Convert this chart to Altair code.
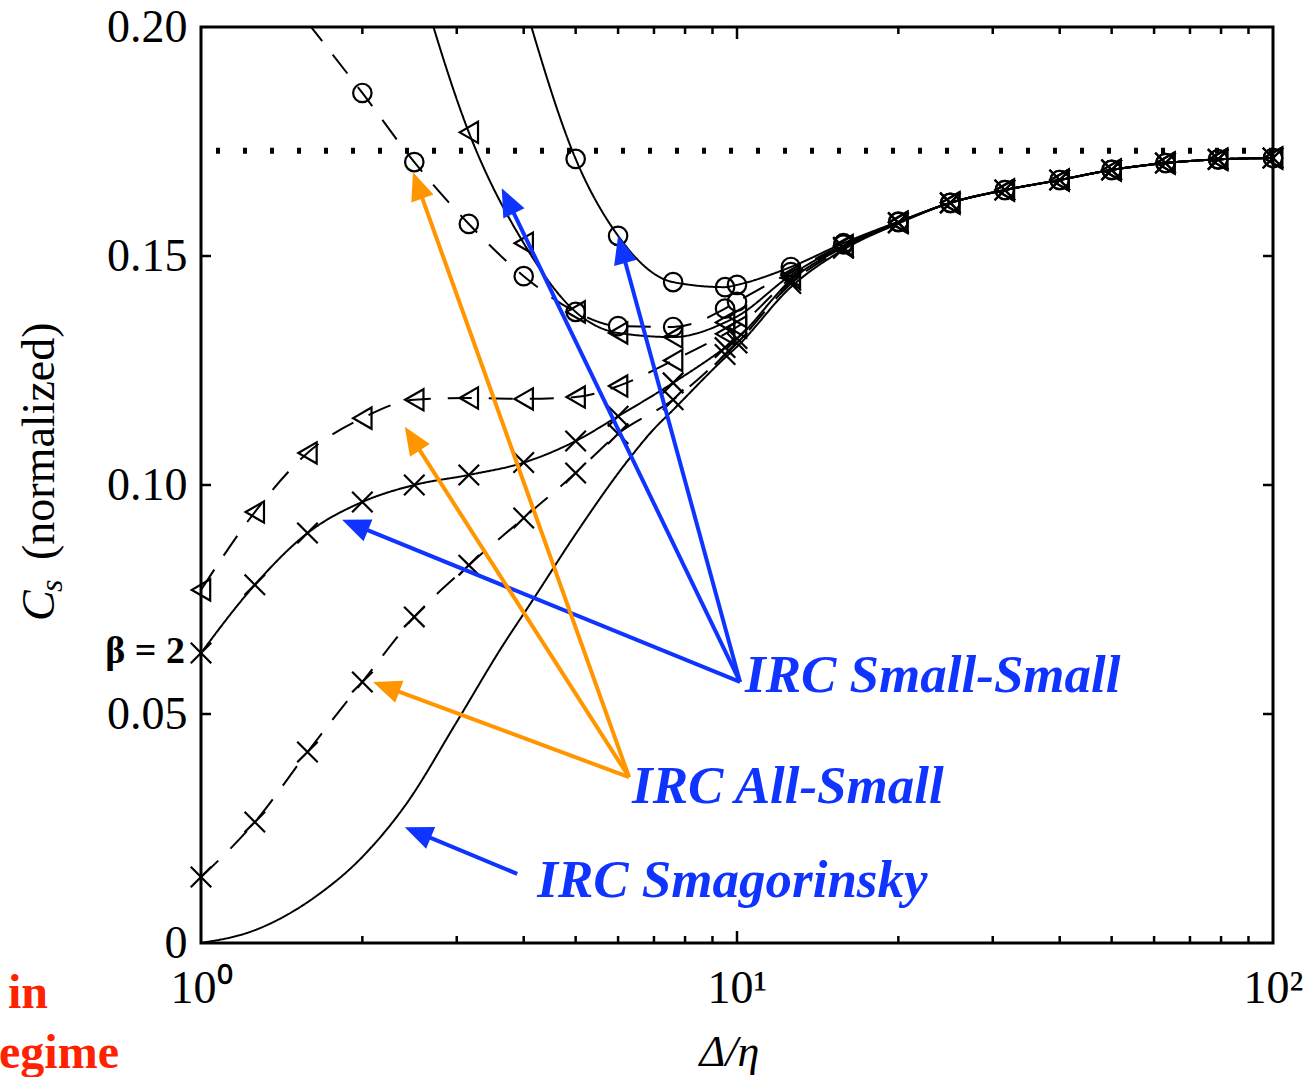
import math
import altair as alt
import pandas as pd

# plot area size (px)
W, H = 1072, 916
X_DOMAIN = [1, 100]
Y_DOMAIN = [0, 0.2]

# filter width to Kolmogorov scale ratio, Δ/η
DX = [1, 1.26, 1.58, 2, 2.5, 3.16, 4, 5, 6, 7.6, 9.5, 10,
      12.6, 15.8, 20, 25, 31.6, 40, 50, 63, 79, 100]

# common high-Δ/η branch (Δ/η = 25 ... 100)
TAIL = [0.1616, 0.1644, 0.1666, 0.1688, 0.1703, 0.1711, 0.1714]

# IRC Small-Small (solid lines)
SS_CIRCLE = [None, None, None, None, None, None, 0.2057, 0.1712, 0.1544, 0.1443,
             0.1432, 0.1437, 0.1476, 0.1528, 0.1575] + TAIL
SS_TRIANGLE = [None, None, None, None, 0.2140, 0.1770, 0.1528, 0.1378, 0.1332, 0.1323,
               0.1355, 0.1368, 0.1458, 0.1523, 0.1574] + TAIL
SS_CROSS = [0.0633, 0.0782, 0.0895, 0.0963, 0.1000, 0.1022, 0.1049, 0.1096, 0.1150, 0.1223,
            0.1300, 0.1320, 0.1447, 0.1519, 0.1573] + TAIL

# IRC All-Small (dashed lines)
AS_CIRCLE = [None, None, 0.2010, 0.1856, 0.1705, 0.1570, 0.1456, 0.1378, 0.1347, 0.1345,
             0.1385, 0.1400, 0.1465, 0.1525, 0.1574] + TAIL
AS_TRIANGLE = [0.0771, 0.0941, 0.1070, 0.1146, 0.1186, 0.1190, 0.1188, 0.1192, 0.1216, 0.1272,
               0.1330, 0.1345, 0.1452, 0.1521, 0.1573] + TAIL
AS_CROSS = [0.0144, 0.0264, 0.0417, 0.0570, 0.0712, 0.0825, 0.0928, 0.1026, 0.1112, 0.1186,
            0.1285, 0.1310, 0.1440, 0.1517, 0.1572] + TAIL

# IRC Smagorinsky (solid, no symbols), sampled along the curve
SMAG_DX = [1, 1.26, 1.63, 2.0, 2.42, 2.99, 3.64, 4.16, 5.0, 6.32, 6.97, 7.6, 9.5, 10,
           12.6, 15.8, 20, 25, 31.6, 40, 50, 63, 79, 100]
SMAGORINSKY = [0.0, 0.0028, 0.0100, 0.0188, 0.0305, 0.0480, 0.0646, 0.0749, 0.0893, 0.1060,
               0.1120, 0.1164, 0.1278, 0.1302, 0.1432, 0.1514, 0.1571] + TAIL

# asymptotic value
CS_ASYMPTOTE = 0.173

# axis ticks
Y_TICKS = [0, 0.05, 0.10, 0.15, 0.20]
X_LABEL_TICKS = [1, 10, 100]
X_MINOR = [2, 3, 4, 5, 6, 7, 8, 9, 20, 30, 40, 50, 60, 70, 80, 90]
X_MAJOR = [10]
Y_INNER = [0.05, 0.10, 0.15]

# annotations
LABELS = ["IRC Small-Small", "IRC All-Small", "IRC Smagorinsky"]
LABEL_X = [10.35, 6.37, 4.24]
LABEL_Y = [0.0548, 0.0306, 0.0100]

BLUE = "#1034ff"
ORANGE = "#ff9600"
ARROW_TAIL_X = [10.13, 10.13, 10.13, 3.89, 6.29, 6.29, 6.29]
ARROW_TAIL_Y = [0.0570, 0.0570, 0.0570, 0.0151, 0.0362, 0.0362, 0.0362]
ARROW_TIP_X = [1.833, 3.64, 6.00, 2.40, 2.094, 2.40, 2.486]
ARROW_TIP_Y = [0.0924, 0.1648, 0.1544, 0.0253, 0.0570, 0.1127, 0.1683]
ARROW_COLOR = [BLUE, BLUE, BLUE, BLUE, ORANGE, ORANGE, ORANGE]

SERIES = [
    ("SS circle", DX, SS_CIRCLE, "solid", "circle"),
    ("SS triangle", DX, SS_TRIANGLE, "solid", "triangle"),
    ("SS cross", DX, SS_CROSS, "solid", "cross"),
    ("AS circle", DX, AS_CIRCLE, "dashed", "circle"),
    ("AS triangle", DX, AS_TRIANGLE, "dashed", "triangle"),
    ("AS cross", DX, AS_CROSS, "dashed", "cross"),
    ("Smagorinsky", SMAG_DX, SMAGORINSKY, "solid", "none"),
]

rows = []
for name, xv, vals, style, marker in SERIES:
    for x, y in zip(xv, vals):
        if y is not None:
            rows.append({"dx": x, "cs": y, "series": name, "style": style, "marker": marker})
curves = pd.DataFrame(rows)
symbols = curves[(curves["marker"] != "none") & (curves["cs"] <= 0.2)]

SERIF = "Liberation Serif"
xs = alt.Scale(type="log", domain=X_DOMAIN, nice=False)
ys = alt.Scale(domain=Y_DOMAIN, nice=False, zero=False)


def to_px(x, y):
    return W * math.log10(x) / 2.0, H * (1 - y / 0.2)


# arrow shafts stop a little short of the tip; heads are rotated to the shaft direction
arrow_rows = []
HEAD = 28.0
for x0, y0, x1, y1, c in zip(ARROW_TAIL_X, ARROW_TAIL_Y, ARROW_TIP_X, ARROW_TIP_Y, ARROW_COLOR):
    p0, p1 = to_px(x0, y0), to_px(x1, y1)
    ddx, ddy = p1[0] - p0[0], p1[1] - p0[1]
    length = math.hypot(ddx, ddy)
    t = 1 - (HEAD * 0.7) / length
    xe = 10 ** (math.log10(x0) + t * (math.log10(x1) - math.log10(x0)))
    ye = y0 + t * (y1 - y0)
    ang = math.degrees(math.atan2(ddx, -ddy)) % 360
    arrow_rows.append({"x0": x0, "y0": y0, "xe": xe, "ye": ye, "x1": x1, "y1": y1,
                       "color": c, "angle": ang})
arrows = pd.DataFrame(arrow_rows)

lines = alt.Chart(curves).mark_line(color="black", strokeWidth=2, interpolate="monotone", clip=True).encode(
    x=alt.X("dx:Q", scale=xs,
            axis=alt.Axis(values=X_LABEL_TICKS,
                          labelExpr="datum.value == 1 ? '10⁰' : (datum.value == 10 ? '10¹' : '10²')",
                          ticks=False, domain=False, grid=False, labelFlush=False, labelOverlap=False,
                          labelFont=SERIF, labelFontSize=46, labelColor="black", labelPadding=23,
                          title="Δ/η", titleFont=SERIF, titleFontSize=44, titleFontStyle="italic",
                          titleFontWeight="normal", titleColor="black", titleX=528, titleY=122,
                          titleBaseline="alphabetic", titleAlign="center")),
    y=alt.Y("cs:Q", scale=ys,
            axis=alt.Axis(values=Y_TICKS,
                          labelExpr="datum.value == 0 ? '0' : format(datum.value, '.2f')",
                          ticks=False, domain=False, grid=False, labelFlush=False, labelOverlap=False,
                          labelFont=SERIF, labelFontSize=46, labelColor="black", labelPadding=14,
                          title=None)),
    detail="series:N",
    strokeDash=alt.StrokeDash("style:N", scale=alt.Scale(domain=["solid", "dashed"],
                                                         range=[[1, 0], [24, 17]]), legend=None),
)

# open symbols, one layer per symbol type
SYMBOL_STYLE = {
    "circle": ("circle", 340),
    "triangle": ("triangle-left", 450),
    "cross": ("M-1,-1L1,1M-1,1L1,-1", 420),
}
symbol_layers = []
for key, (shape, size) in SYMBOL_STYLE.items():
    symbol_layers.append(
        alt.Chart(symbols[symbols["marker"] == key]).mark_point(
            shape=shape, size=size, filled=False, color="black", strokeWidth=2.2, opacity=1).encode(
            x=alt.X("dx:Q", scale=xs), y=alt.Y("cs:Q", scale=ys)))

asym = alt.Chart(pd.DataFrame({"cs": [CS_ASYMPTOTE]})).mark_rule(
    color="black", strokeWidth=6, strokeDash=[4, 23]).encode(y=alt.Y("cs:Q", scale=ys))

# inward ticks on all four sides
def xticks(vals, length):
    d = pd.DataFrame({"t": vals})
    bottom = alt.Chart(d).mark_rule(color="black", strokeWidth=2.5).encode(
        x=alt.X("t:Q", scale=xs), y=alt.value(H), y2=alt.value(H - length))
    top = alt.Chart(d).mark_rule(color="black", strokeWidth=2.5).encode(
        x=alt.X("t:Q", scale=xs), y=alt.value(0), y2=alt.value(length))
    return [bottom, top]


yd = pd.DataFrame({"t": Y_INNER})
left_ticks = alt.Chart(yd).mark_rule(color="black", strokeWidth=2.5).encode(
    y=alt.Y("t:Q", scale=ys), x=alt.value(0), x2=alt.value(10))
right_ticks = alt.Chart(yd).mark_rule(color="black", strokeWidth=2.5).encode(
    y=alt.Y("t:Q", scale=ys), x=alt.value(W), x2=alt.value(W - 10))

shafts = alt.Chart(arrows).mark_rule(strokeWidth=4).encode(
    x=alt.X("x0:Q", scale=xs), y=alt.Y("y0:Q", scale=ys),
    x2="xe:Q", y2="ye:Q", color=alt.Color("color:N", scale=None))
heads = alt.Chart(arrows).mark_point(
    shape="M0,0L-0.42,1L0.42,1Z", filled=True, size=HEAD * HEAD * 4, opacity=1, strokeWidth=0).encode(
    x=alt.X("x1:Q", scale=xs), y=alt.Y("y1:Q", scale=ys),
    angle=alt.Angle("angle:Q", scale=None), color=alt.Color("color:N", scale=None))

labels = alt.Chart(pd.DataFrame({"x": LABEL_X, "y": LABEL_Y, "t": LABELS})).mark_text(
    font=SERIF, fontSize=53, fontStyle="italic", fontWeight="bold", color=BLUE,
    align="left", baseline="alphabetic").encode(
    x=alt.X("x:Q", scale=xs), y=alt.Y("y:Q", scale=ys), text="t:N")

beta = alt.Chart(pd.DataFrame({"x": [1], "y": [0.0636], "t": ["β = 2"]})).mark_text(
    font=SERIF, fontSize=38, fontWeight="bold", color="black", align="right",
    baseline="middle", dx=-16).encode(
    x=alt.X("x:Q", scale=xs), y=alt.Y("y:Q", scale=ys), text="t:N")

# y-axis title: C_s (normalized)
def free_text(t, px, py, size, style="normal", weight="normal", color="black", angle=0):
    return alt.Chart(pd.DataFrame({"t": [t]})).mark_text(
        font=SERIF, fontSize=size, fontStyle=style, fontWeight=weight, color=color,
        align="left", baseline="alphabetic", angle=angle).encode(
        x=alt.value(px), y=alt.value(py), text="t:N")


title_c = free_text("C", -147, 594, 46, style="italic", angle=270)
title_s = free_text("s", -139, 565, 32, style="italic", angle=270)
title_rest = free_text("(normalized)", -147, 533, 46, angle=270)

red_in = free_text("in", -193, 981, 48, weight="bold", color="#ff2200")
red_regime = free_text("egime", -202, 1041, 48, weight="bold", color="#ff2200")

layers = [lines, asym] + symbol_layers + xticks(X_MINOR, 7) + xticks(X_MAJOR, 12) + [
    left_ticks, right_ticks, shafts, heads, labels, beta,
    title_c, title_s, title_rest, red_in, red_regime]

chart = alt.layer(*layers).properties(
    width=W, height=H,
    padding={"left": 201, "top": 27, "right": 37, "bottom": 134},
    autosize=alt.AutoSizeParams(type="none"),
    background="white",
).configure_view(stroke="black", strokeWidth=3)

chart.save("out.html", embed_options={"renderer": "svg", "actions": False})
